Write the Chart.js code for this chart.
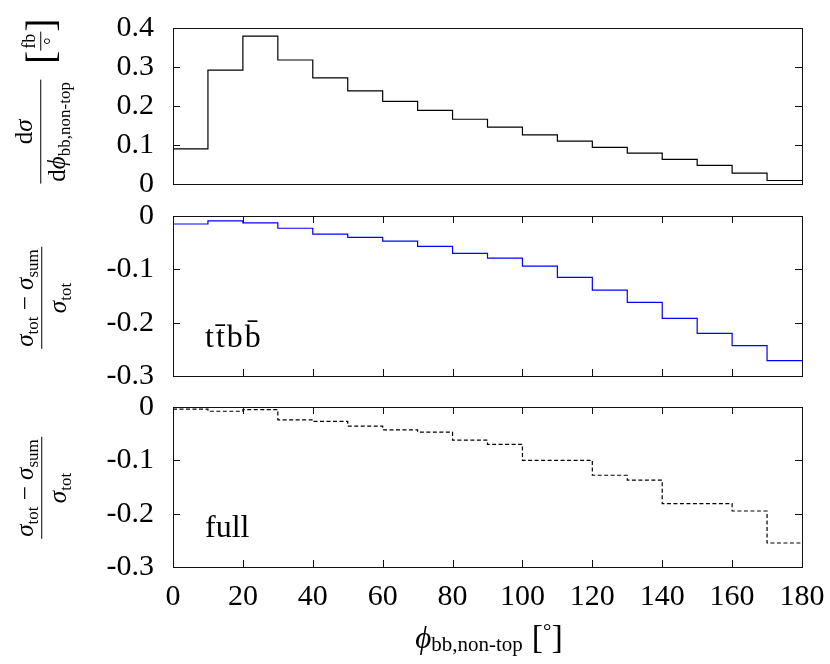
<!DOCTYPE html>
<html>
<head>
<meta charset="utf-8">
<script src="https://cdn.jsdelivr.net/npm/chart.js@4"></script>
<style>
  html, body { margin: 0; padding: 0; background: #fff; }
  #wrap { position: relative; width: 830px; height: 664px; font-family: 'Liberation Serif', 'DejaVu Serif', serif; color: #000; }
  .layer { position: absolute; left: 0; top: 0; width: 830px; height: 664px; }
  .txt { position: absolute; white-space: nowrap; line-height: 1; }
  .ylab { position: absolute; transform: translate(-50%, -50%) rotate(-90deg); white-space: nowrap; display: flex; align-items: center; font-size: 25px; line-height: 1.05; }
  .frac { display: inline-flex; flex-direction: column; align-items: stretch; text-align: center; }
  .frac .num { padding: 0 2px 3px; }
  .frac .den { border-top: 1px solid #000; padding: 3px 2px 0; }
  .sb { font-size: 0.68em; position: relative; top: 0.28em; }
  .it { font-style: italic; }
  .br { font-size: 40px; font-weight: 300; line-height: 1; }
</style>
</head>
<body>
<div id="wrap">
  <div class="layer"><canvas id="cXsec"></canvas></div>
  <div class="layer"><canvas id="cTtbb"></canvas></div>
  <div class="layer"><canvas id="cFull"></canvas></div>

  <!-- y-Achsentitel, gedreht -->
  <div class="ylab" style="left:41px; top:101px;">
    <span class="frac">
      <span class="num">d<span class="it">σ</span></span>
      <span class="den">d<span class="it">ϕ</span><span class="sb">bb,non-top</span></span>
    </span>
    <span style="width:16px"></span>
    <span class="br">[</span>
    <span class="frac" style="font-size:18px">
      <span class="num" style="padding-bottom:1px">fb</span>
      <span class="den" style="padding-top:1px">°</span>
    </span>
    <span class="br">]</span>
  </div>
  <div class="ylab" style="left:42px; top:298px;">
    <span class="frac">
      <span class="num"><span class="it">σ</span><span class="sb">tot</span> − <span class="it">σ</span><span class="sb">sum</span></span>
      <span class="den"><span class="it">σ</span><span class="sb">tot</span></span>
    </span>
  </div>
  <div class="ylab" style="left:42px; top:488px;">
    <span class="frac">
      <span class="num"><span class="it">σ</span><span class="sb">tot</span> − <span class="it">σ</span><span class="sb">sum</span></span>
      <span class="den"><span class="it">σ</span><span class="sb">tot</span></span>
    </span>
  </div>

  <!-- Panel-Beschriftungen -->
  <div class="txt" style="left:205px; top:320px; font-size:32px; letter-spacing:2px;">tt̄bb̄</div>
  <div class="txt" style="left:205px; top:510px; font-size:32px;">full</div>

  <!-- x-Achsentitel -->
  <div class="txt" style="left:489px; top:637px; transform:translate(-50%,-50%); font-size:31px; display:flex; align-items:center;">
    <span class="it">ϕ</span><span class="sb" style="font-size:21px; top:7px;">bb,non-top</span>
    <span style="width:9px"></span><span style="font-size:34px">[</span><span style="font-size:21px; position:relative; top:-6px;">°</span><span style="font-size:34px">]</span>
  </div>
</div>

<script>
  // Bin-Unterkanten (Breite 10°), letzter Bin endet bei 180°
  const binEdges = [0, 10, 20, 30, 40, 50, 60, 70, 80, 90, 100, 110, 120, 130, 140, 150, 160, 170];
  const xEnd = 180;

  // dσ/dφ [fb/°]
  const xsecValues = [0.090, 0.292, 0.379, 0.318, 0.272, 0.239, 0.212, 0.189, 0.166, 0.146,
                      0.126, 0.110, 0.094, 0.079, 0.063, 0.048, 0.028, 0.009];
  // (σtot − σsum)/σtot, ttbb
  const ttbbRatio = [-0.015, -0.009, -0.013, -0.023, -0.034, -0.040, -0.047, -0.057, -0.070, -0.079,
                     -0.094, -0.115, -0.139, -0.162, -0.192, -0.220, -0.243, -0.271];
  // (σtot − σsum)/σtot, full
  const fullRatio = [-0.004, -0.008, -0.005, -0.024, -0.027, -0.036, -0.043, -0.047, -0.062, -0.070,
                     -0.100, -0.100, -0.128, -0.137, -0.181, -0.181, -0.195, -0.255];

  const xTicks = [0, 20, 40, 60, 80, 100, 120, 140, 160, 180];
  const xsecTicks = [0, 0.1, 0.2, 0.3, 0.4];
  const ratioTicks = [-0.3, -0.2, -0.1, 0];

  const FONT = { family: "'Liberation Serif', 'DejaVu Serif', serif", size: 30 };
  const W = 830, H = 664;
  const LEFT = 173, RIGHT = 802;

  // Histogramm als Treppenlinie: Punkt an jeder Bin-Unterkante + Endpunkt bei 180
  function stepPoints(vals) {
    const pts = binEdges.map((x, i) => ({ x: x, y: vals[i] }));
    pts.push({ x: xEnd, y: vals[vals.length - 1] });
    return pts;
  }

  function fmtTick(v) {
    if (Math.abs(v) < 1e-9) return '0';
    return v.toFixed(1);
  }

  // Rahmen + nach innen zeigende Ticks (gnuplot-Stil)
  const framePlugin = {
    id: 'frame',
    afterDatasetsDraw(chart, args, opts) {
      const { ctx, chartArea: a, scales } = chart;
      const tl = 7;
      ctx.save();
      ctx.strokeStyle = '#111';
      ctx.lineWidth = 1;
      ctx.strokeRect(a.left + 0.5, a.top + 0.5, a.right - a.left, a.bottom - a.top);
      ctx.beginPath();
      (opts.yTicks || []).forEach(v => {
        const y = Math.round(scales.y.getPixelForValue(v)) + 0.5;
        ctx.moveTo(a.left, y); ctx.lineTo(a.left + tl, y);
        ctx.moveTo(a.right, y); ctx.lineTo(a.right - tl, y);
      });
      (opts.xTicks || []).forEach(v => {
        const x = Math.round(scales.x.getPixelForValue(v)) + 0.5;
        ctx.moveTo(x, a.top); ctx.lineTo(x, a.top + tl);
        ctx.moveTo(x, a.bottom); ctx.lineTo(x, a.bottom - tl);
      });
      ctx.stroke();
      ctx.restore();
    },
  };

  function makePanel(id, cfg) {
    return new Chart(document.getElementById(id), {
      type: 'line',
      data: {
        datasets: [{
          data: stepPoints(cfg.values),
          borderColor: cfg.color,
          borderWidth: 1.2,
          borderDash: cfg.dash || [],
          stepped: 'before',
          pointRadius: 0,
          fill: false,
        }],
      },
      options: {
        responsive: true,
        maintainAspectRatio: false,
        animation: false,
        events: [],
        layout: { padding: { left: 0, right: W - RIGHT, top: cfg.top, bottom: cfg.showX ? 0 : H - cfg.bottom } },
        plugins: {
          legend: { display: false },
          tooltip: { enabled: false },
          frame: { yTicks: cfg.yTicks, xTicks: cfg.frameXTicks },
        },
        scales: {
          x: {
            type: 'linear',
            min: 0, max: xEnd,
            display: cfg.showX,
            grid: { display: false, drawTicks: false },
            border: { display: false },
            afterBuildTicks: s => { s.ticks = xTicks.map(v => ({ value: v })); },
            afterFit: s => {
              s.height = cfg.showX ? H - cfg.bottom : 0;
              s.paddingLeft = 0; s.paddingRight = 0;
            },
            ticks: { color: '#000', font: FONT, padding: 12, maxRotation: 0, autoSkip: false },
          },
          y: {
            min: cfg.yMin, max: cfg.yMax,
            grid: { display: false, drawTicks: false },
            border: { display: false },
            afterBuildTicks: s => { s.ticks = cfg.yTicks.map(v => ({ value: v })); },
            afterFit: s => { s.width = LEFT; s.paddingTop = 0; s.paddingBottom = 0; },
            ticks: { color: '#000', font: FONT, padding: 19, callback: fmtTick, autoSkip: false },
          },
        },
      },
      plugins: [framePlugin],
    });
  }

  makePanel('cXsec', {
    values: xsecValues, color: '#000', yMin: 0, yMax: 0.4, yTicks: xsecTicks,
    top: 28, bottom: 184, showX: false, frameXTicks: [],
  });
  makePanel('cTtbb', {
    values: ttbbRatio, color: '#0000ff', yMin: -0.3, yMax: 0, yTicks: ratioTicks,
    top: 216, bottom: 376, showX: false, frameXTicks: xTicks.slice(1, -1),
  });
  makePanel('cFull', {
    values: fullRatio, color: '#000', dash: [4, 2.5], yMin: -0.3, yMax: 0, yTicks: ratioTicks,
    top: 407, bottom: 567, showX: true, frameXTicks: xTicks.slice(1, -1),
  });
</script>
</body>
</html>
